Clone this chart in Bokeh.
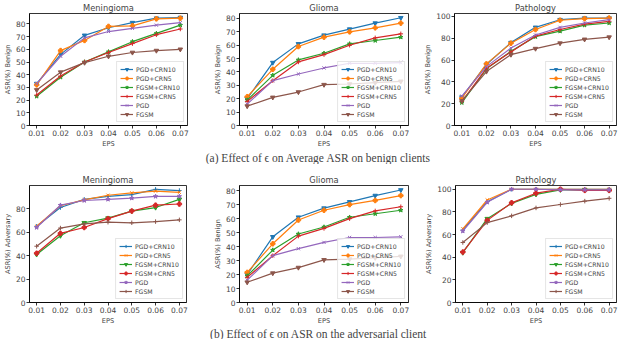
from bokeh.plotting import figure
from bokeh.layouts import column, row
from bokeh.models import (Range1d, FixedTicker, NumeralTickFormatter, Legend,
                          LegendItem, Label, ColumnDataSource)
from bokeh.embed import file_html
from bokeh.resources import INLINE

EPS = [0.01, 0.02, 0.03, 0.04, 0.05, 0.06, 0.07]
SERIES = ["PGD+CRN10", "PGD+CRN5", "FGSM+CRN10", "FGSM+CRN5", "PGD", "FGSM"]
COLORS = ["#1f77b4", "#ff7f0e", "#2ca02c", "#d62728", "#9467bd", "#8c564b"]
MARKERS_BENIGN = ["inverted_triangle", "plus", "star", "cross", "x", "inverted_triangle"]
MARKERS_ADV = ["cross", "x", "inverted_triangle", "plus", "star", "cross"]

# Values per series, in SERIES order
MEN_BENIGN = [
    [33, 56, 71, 77, 81, 84.5, 85],
    [32, 59, 67, 78, 78.5, 84, 84.5],
    [23, 38, 50, 58, 66, 72.5, 79],
    [24, 39, 50, 57.5, 64.5, 71.5, 76],
    [33, 54.5, 69, 74, 76.5, 79, 81],
    [28, 42, 49.5, 54.5, 57.5, 59, 60],
]
GLI_BENIGN = [
    [20, 47, 61, 67.5, 72, 76.5, 80.5],
    [21.5, 42, 59, 66, 70, 73, 76.5],
    [19, 37.5, 49, 54, 61, 63.5, 66],
    [18, 33.5, 47.5, 53, 60, 65.5, 68.5],
    [16, 33.5, 38.5, 43, 46.5, 46.5, 47],
    [14.5, 21, 25, 30.5, 31, 32, 33],
]
PAT_BENIGN = [
    [26, 56, 76, 90, 97, 98.5, 98.5],
    [25, 56.5, 75.5, 88, 96.5, 98, 98.5],
    [21, 52, 68, 81.5, 86.5, 92, 94],
    [22, 52.5, 67.5, 82, 88, 93, 95.5],
    [27, 54, 71, 83, 90, 94, 97],
    [22.5, 49.5, 65, 70.5, 75.5, 79, 81],
]
MEN_ADV = [
    [65, 81, 88, 90.5, 92, 96.5, 95.5],
    [65, 82.5, 87.5, 91.5, 93.5, 95, 94],
    [41, 57, 68, 72, 78, 81, 88],
    [42, 59, 64, 71.5, 78, 83, 84],
    [64, 83, 87, 88, 89, 90.5, 90.5],
    [48, 63.5, 67, 68.5, 68, 69, 70.5],
]
PAT_ADV = [
    [64, 89, 100, 100, 100, 100, 100],
    [65, 90.5, 100, 100, 100, 100, 100],
    [44, 74, 87.5, 95.5, 99.5, 99.5, 99],
    [44.5, 72.5, 88, 96.5, 100, 99, 99],
    [63, 88.5, 100, 100, 99.5, 99.5, 99.5],
    [53, 70.5, 76.5, 83.5, 86.5, 89.5, 92],
]

CAPTION_A = "(a) Effect of \u03f5 on Average ASR on benign clients"
CAPTION_B = "(b) Effect of \u03f5 on ASR on the adversarial client"

FONT = "DejaVu Sans"


def panel(title, ylabel, data, markers, ymax, yticks, width, height,
          mbl, mbr, mbt, mbb):
    p = figure(width=width, height=height, output_backend="svg",
               toolbar_location=None, title=title,
               x_range=Range1d(0.007, 0.073), y_range=Range1d(0, ymax),
               min_border_left=mbl, min_border_right=mbr,
               min_border_top=mbt, min_border_bottom=mbb)
    p.title.align = "center"
    p.title.text_font = FONT
    p.title.text_font_size = "8.3px"
    p.title.text_font_style = "normal"
    p.title.standoff = 1
    p.title.offset = 0

    p.xgrid.visible = False
    p.ygrid.visible = False
    p.outline_line_color = "black"
    p.outline_line_alpha = 1
    p.outline_line_width = 0.8

    p.xaxis.ticker = FixedTicker(ticks=EPS)
    p.xaxis.formatter = NumeralTickFormatter(format="0.00")
    p.yaxis.ticker = FixedTicker(ticks=yticks)
    p.xaxis.axis_label = "EPS"
    p.yaxis.axis_label = ylabel
    for ax in (p.xaxis, p.yaxis):
        ax.axis_line_width = 0.8
        ax.major_tick_out = 3
        ax.major_tick_in = 0
        ax.major_tick_line_width = 0.8
        ax.minor_tick_line_color = None
        ax.major_label_text_font = FONT
        ax.major_label_text_font_size = "7.5px"
        ax.major_label_standoff = 1
        ax.axis_label_text_font = FONT
        ax.axis_label_text_font_size = "6.6px"
        ax.axis_label_text_font_style = "normal"
        ax.axis_label_standoff = 1

    items = []
    for name, color, marker, ys in zip(SERIES, COLORS, markers, data):
        src = ColumnDataSource(dict(x=EPS, y=ys))
        ln = p.line("x", "y", source=src, line_color=color, line_width=1.2)
        sc = p.scatter("x", "y", source=src, marker=marker, size=4.5,
                       fill_color=color, line_color=color, line_width=1)
        items.append(LegendItem(label=name, renderers=[ln, sc]))
    legend = Legend(items=items, location="bottom_right",
                    label_text_font=FONT, label_text_font_size="6.2px",
                    label_height=8, glyph_height=8, glyph_width=13,
                    label_standoff=3, spacing=1, padding=3, margin=3,
                    border_line_color="#cccccc", border_line_width=0.8,
                    background_fill_alpha=0.8)
    p.add_layout(legend)
    return p


def caption(text, height, yc):
    c = figure(width=624, height=height, output_backend="svg",
               toolbar_location=None, x_range=Range1d(0, 624),
               y_range=Range1d(0, height), min_border=0,
               x_axis_location=None, y_axis_location=None)
    c.grid.visible = False
    c.outline_line_color = None
    c.add_layout(Label(x=318, y=yc, text=text, text_align="center",
                       text_baseline="middle", text_font="Liberation Serif",
                       text_font_size="11.5px"))
    return c


f1 = panel("Meningioma", "ASR(%) Benign", MEN_BENIGN, MARKERS_BENIGN, 88.2,
           [0, 10, 20, 30, 40, 50, 60, 70, 80], 208, 150, 28, 21, 9, 20)
f2 = panel("Glioma", "ASR(%) Benign", GLI_BENIGN, MARKERS_BENIGN, 83.7,
           [0, 10, 20, 30, 40, 50, 60, 70, 80], 212, 150, 31, 12, 9, 20)
f3 = panel("Pathology", "ASR(%) Benign", PAT_BENIGN, MARKERS_BENIGN, 102.7,
           [0, 20, 40, 60, 80, 100], 204, 150, 34, 8, 9, 20)
f4 = panel("Meningioma", "ASR(%) Adversary", MEN_ADV, MARKERS_ADV, 99.8,
           [0, 20, 40, 60, 80], 208, 163, 21, 22, 21, 20)
f5 = panel("Glioma", "ASR(%) Benign", GLI_BENIGN, MARKERS_BENIGN, 83.7,
           [0, 10, 20, 30, 40, 50, 60, 70, 80], 212, 163, 31, 12, 21, 20)
f6 = panel("Pathology", "ASR(%) Adversary", PAT_ADV, MARKERS_ADV, 103.3,
           [0, 20, 40, 60, 80, 100], 204, 163, 35, 8, 21, 20)

cap_a = caption(CAPTION_A, 14, 7)
cap_b = caption(CAPTION_B, 12, 6)

layout = column(row(f1, f2, f3), cap_a, row(f4, f5, f6), cap_b)

open("out.html", "w").write(file_html(layout, INLINE))
